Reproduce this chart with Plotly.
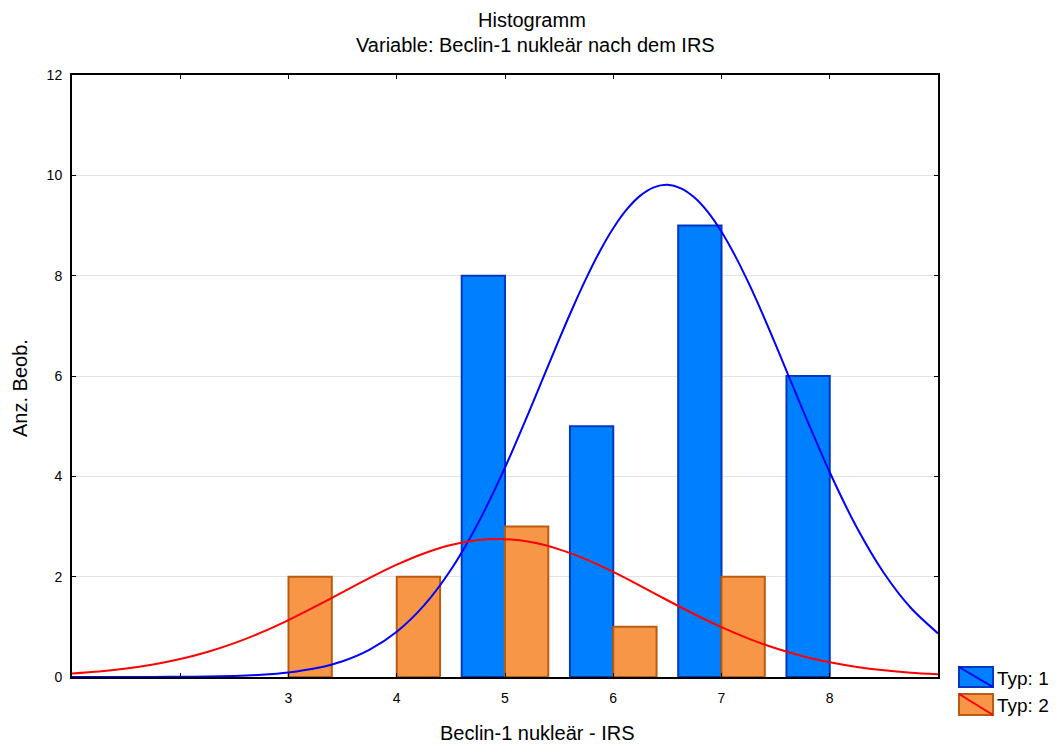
import plotly.graph_objects as go

# ---- data ----
typ1_x = [5, 6, 7, 8]
typ1_counts = [8, 5, 9, 6]
typ2_x = [3, 4, 5, 6, 7]
typ2_counts = [2, 2, 3, 1, 2]

curve1_x = [1.0, 1.25, 1.5, 1.75, 2.0, 2.25, 2.5, 2.75, 3.0, 3.25, 3.5, 3.75,
            4.0, 4.25, 4.5, 4.75, 5.0, 5.25, 5.5, 5.625, 5.75, 5.875, 6.0,
            6.125, 6.25, 6.375, 6.5, 6.625, 6.75, 6.875, 7.0, 7.125, 7.25,
            7.375, 7.5, 7.75, 8.0, 8.25, 8.5, 8.75, 9.0]
curve_typ1 = [0.0001, 0.0003, 0.0007, 0.0017, 0.0042, 0.0097, 0.0215, 0.0451,
              0.0905, 0.173, 0.315, 0.546, 0.903, 1.423, 2.138, 3.061, 4.176,
              5.430, 6.729, 7.356, 7.946, 8.482, 8.945, 9.320, 9.595, 9.760,
              9.810, 9.741, 9.558, 9.267, 8.876, 8.400, 7.855, 7.259, 6.626,
              5.326, 4.081, 2.979, 2.073, 1.375, 0.869]
curve2_x = [1.0, 1.25, 1.5, 1.75, 2.0, 2.25, 2.5, 2.75, 3.0, 3.25, 3.5, 3.75,
            4.0, 4.25, 4.5, 4.75, 5.0, 5.25, 5.5, 5.75, 6.0, 6.25, 6.5, 6.75,
            7.0, 7.25, 7.5, 7.75, 8.0, 8.25, 8.5, 8.75, 9.0]
curve_typ2 = [0.0698, 0.1098, 0.1676, 0.2483, 0.357, 0.498, 0.675, 0.888,
              1.134, 1.406, 1.691, 1.975, 2.239, 2.463, 2.632, 2.729, 2.747,
              2.684, 2.545, 2.344, 2.094, 1.817, 1.530, 1.251, 0.993, 0.765,
              0.572, 0.415, 0.292, 0.200, 0.133, 0.0856, 0.0535]

x_tickvals = [2, 3, 4, 5, 6, 7, 8]
x_ticktext = ["", "3", "4", "5", "6", "7", "8"]
y_tickvals = [0, 2, 4, 6, 8, 10, 12]

title_line1 = "Histogramm"
title_line2 = "Variable: Beclin-1 nukleär nach dem IRS"
x_title = "Beclin-1 nukleär - IRS"
y_title = "Anz. Beob."
legend_labels = ["Typ: 1", "Typ: 2"]

BLUE_FILL = "#0080FF"
BLUE_EDGE = "#0038C0"
ORANGE_FILL = "#F79646"
ORANGE_EDGE = "#B95C12"
FONT = "Liberation Sans, Arial, sans-serif"
BIG = 20

fig = go.Figure()
fig.add_trace(go.Bar(x=typ1_x, y=typ1_counts, offset=-0.4, width=0.4,
                     marker=dict(color=BLUE_FILL, line=dict(color=BLUE_EDGE, width=2)),
                     name=legend_labels[0], showlegend=False))
fig.add_trace(go.Bar(x=typ2_x, y=typ2_counts, offset=0.0, width=0.4,
                     marker=dict(color=ORANGE_FILL, line=dict(color=ORANGE_EDGE, width=2)),
                     name=legend_labels[1], showlegend=False))
fig.add_trace(go.Scatter(x=curve1_x, y=curve_typ1, mode="lines",
                         line=dict(color="#0000FF", width=2, shape="spline", smoothing=0.8),
                         showlegend=False))
fig.add_trace(go.Scatter(x=curve2_x, y=curve_typ2, mode="lines",
                         line=dict(color="#FF0000", width=2, shape="spline", smoothing=0.8),
                         showlegend=False))

W, H = 1064, 751
L, R, T, B = 72, 938, 75, 677
pw, ph = R - L, B - T

def px(xp):
    return (xp - L) / pw

def py(yp):
    return (B - yp) / ph

shapes = []
annotations = []
# legend (drawn manually)
leg = [(667, 687, BLUE_FILL, BLUE_EDGE, "#0000FF"),
       (694, 715, ORANGE_FILL, ORANGE_EDGE, "#FF0000")]
for (y0, y1, fill, edge, ln), lab in zip(leg, legend_labels):
    shapes.append(dict(type="rect", xref="paper", yref="paper",
                       x0=px(959), x1=px(993), y0=py(y1), y1=py(y0),
                       fillcolor=fill, line=dict(color=edge, width=2)))
    shapes.append(dict(type="line", xref="paper", yref="paper",
                       x0=px(959), x1=px(993), y0=py(y0), y1=py(y1),
                       line=dict(color=ln, width=2)))
    annotations.append(dict(text=lab, xref="paper", yref="paper",
                            x=px(995), y=py((y0 + y1) / 2 + 1), xanchor="left",
                            yanchor="middle", showarrow=False,
                            font=dict(family=FONT, size=19, color="black")))

annotations.append(dict(text=title_line1, xref="paper", yref="paper", x=px(532), y=py(20),
                        xanchor="center", yanchor="middle", showarrow=False,
                        font=dict(family=FONT, size=BIG, color="black")))
annotations.append(dict(text=title_line2, xref="paper", yref="paper", x=px(535), y=py(45),
                        xanchor="center", yanchor="middle", showarrow=False,
                        font=dict(family=FONT, size=BIG, color="black")))
annotations.append(dict(text=x_title, xref="paper", yref="paper", x=px(537), y=py(733),
                        xanchor="center", yanchor="middle", showarrow=False,
                        font=dict(family=FONT, size=BIG, color="black")))
annotations.append(dict(text=y_title, xref="paper", yref="paper", x=px(20), y=py(388),
                        xanchor="center", yanchor="middle", showarrow=False, textangle=-90,
                        font=dict(family=FONT, size=BIG, color="black")))

fig.update_layout(
    width=W, height=H,
    margin=dict(l=L, r=W - R, t=T, b=H - B, pad=0),
    paper_bgcolor="white", plot_bgcolor="white",
    barmode="overlay", showlegend=False,
    shapes=shapes, annotations=annotations,
    font=dict(family=FONT, size=14, color="black"),
)
fig.update_xaxes(range=[1, 9], tickvals=x_tickvals, ticktext=x_ticktext,
                 showgrid=False, zeroline=False, showline=True, linecolor="black",
                 linewidth=2, mirror="ticks", ticks="inside", ticklen=4,
                 tickcolor="black", tickfont=dict(family=FONT, size=14, color="black"),
                 ticklabelstandoff=7, fixedrange=True)
fig.update_yaxes(range=[0, 12], tickvals=y_tickvals,
                 showgrid=True, gridcolor="#E3E3E3", gridwidth=1, zeroline=False,
                 showline=True, linecolor="black", linewidth=2, mirror="ticks",
                 ticks="inside", ticklen=4, tickcolor="black",
                 tickfont=dict(family=FONT, size=14, color="black"),
                 ticklabelstandoff=5, fixedrange=True)

fig.write_html("out.html")
